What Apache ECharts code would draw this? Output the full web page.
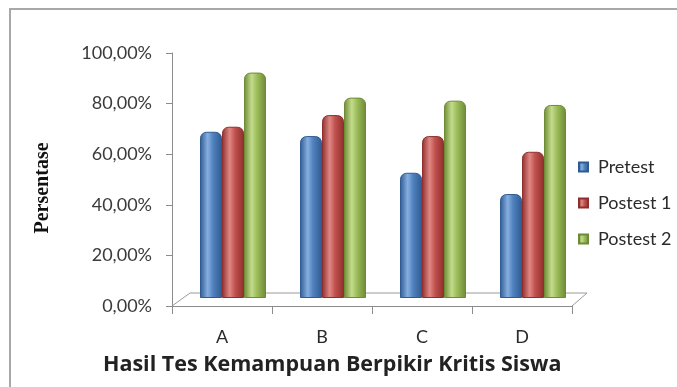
<!DOCTYPE html>
<html><head><meta charset="utf-8">
<script src="https://cdn.jsdelivr.net/npm/echarts@6/dist/echarts.min.js"></script>
<style>html,body{margin:0;padding:0;background:#fff}#c{width:677px;height:387px}</style>
</head><body><div id="c"></div>
<script>
const categories = ['A', 'B', 'C', 'D'];
const seriesNames = ['Pretest', 'Postest 1', 'Postest 2'];
const pretest = [65.7, 64.0, 49.5, 41.1];
const postest1 = [67.7, 72.3, 64.0, 57.8];
const postest2 = [89.1, 79.2, 78.0, 76.3];
const yTicks = [0, 20, 40, 60, 80, 100];
const xTitle = 'Hasil Tes Kemampuan Berpikir Kritis Siswa';
const yTitle = 'Persentase';

const baseColors = ['#4F81BD', '#C0504D', '#9BBB59'];
const darkColors = ['#2f5b92', '#8e2f2d', '#6d8a35'];
const lightColors = ['#86aee0', '#e08784', '#c3dc8c'];
function cyl(i){
  return new echarts.graphic.LinearGradient(0,0,1,0,[
    {offset:0, color:darkColors[i]},
    {offset:0.35, color:lightColors[i]},
    {offset:0.6, color:baseColors[i]},
    {offset:1, color:darkColors[i]}
  ]);
}
const values = [pretest, postest1, postest2];
const chart = echarts.init(document.getElementById('c'), null, {renderer:'canvas'});
const fmt = v => v.toFixed(2).replace('.', ',') + '%';
chart.setOption({
  animation:false,
  backgroundColor:'#fff',
  color:baseColors,
  title:{text:xTitle, left:103, top:354, padding:0,
    textStyle:{fontFamily:'Open Sans', fontWeight:'bold', fontSize:21.5, color:'#222'}},
  legend:{orient:'vertical', left:573, top:153, itemWidth:9, itemHeight:9, itemGap:18,
    icon:'rect', data:seriesNames,
    textStyle:{fontFamily:'Lato', fontSize:18, color:'#2a2a2a', lineHeight:18, padding:[0,0,0,5]}},
  grid:[
    {left:172, right:105, top:53, bottom:81},
    {left:183, right:94, top:45, bottom:89}
  ],
  xAxis:[
    {type:'category', gridIndex:0, data:categories, boundaryGap:true,
     axisLine:{lineStyle:{color:'#8c8c8c'}},
     axisTick:{show:true, length:8, lineStyle:{color:'#8c8c8c'}},
     axisLabel:{margin:22, fontFamily:'Lato', fontSize:18, color:'#2a2a2a'}},
    {type:'category', gridIndex:1, data:categories, show:false}
  ],
  yAxis:[
    {type:'value', gridIndex:0, min:0, max:100, interval:20,
     axisLine:{show:true, lineStyle:{color:'#8c8c8c'}},
     axisTick:{show:true, length:6, lineStyle:{color:'#8c8c8c'}},
     splitLine:{show:false},
     axisLabel:{margin:20, fontFamily:'Lato', fontSize:18, color:'#3a3a3a', formatter:fmt}},
    {type:'value', gridIndex:1, min:0, max:100, show:false, splitLine:{show:false}}
  ],
  graphic:[
    {type:'rect', shape:{x:10, y:9, width:700, height:400}, style:{fill:'none', stroke:'#a8a8a8', lineWidth:2}, silent:true},
    {type:'polyline', shape:{points:[[172,306],[190,293],[587,293],[572,306]]}, style:{fill:'none', stroke:'#9a9a9a', lineWidth:1}, silent:true, z:-1},
    {type:'text', x:43, y:188, rotation:Math.PI/2,
     style:{text:yTitle, fontFamily:'Liberation Serif', fontWeight:'bold', fontSize:20, fill:'#111', textAlign:'center', textVerticalAlign:'middle'}}
  ],
  series: seriesNames.map((n,i)=>({
    name:n, type:'bar', xAxisIndex:1, yAxisIndex:1, data:values[i],
    barWidth:22, barGap:'0%',
    itemStyle:{color:cyl(i), borderColor:darkColors[i], borderWidth:1, borderRadius:[6,6,0,0]},
  }))
});
</script></body></html>
